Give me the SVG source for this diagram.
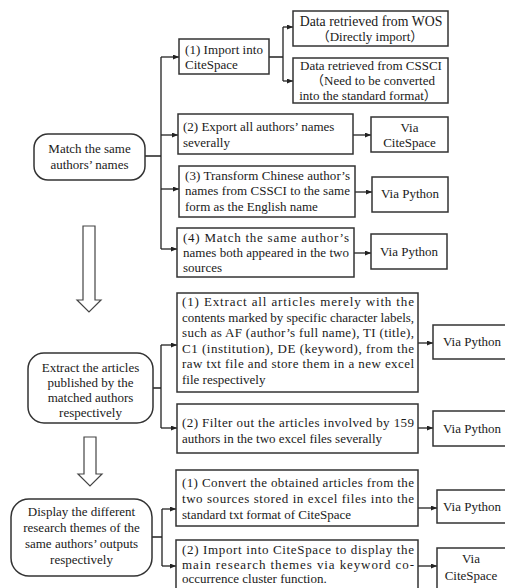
<svg xmlns="http://www.w3.org/2000/svg" width="505" height="588" viewBox="0 0 505 588" font-family="'Liberation Serif', 'Times New Roman', serif">
<style>
.box{fill:#fff;stroke:#333;stroke-width:1.5}
.t{font-family:'Liberation Serif','Times New Roman',serif;font-size:13px;fill:#1a1a1a}
.big{font-size:13.8px}
.cjk{font-family:'Liberation Serif','Noto Sans CJK SC',serif}
.c{text-anchor:middle}
.ln{fill:none;stroke:#222;stroke-width:1.3}
.ar{fill:none;stroke:#222;stroke-width:1.3;marker-end:url(#ah)}
.hollow{fill:#fff;stroke:#444;stroke-width:1.2}
</style>
<defs>
<marker id="ah" markerUnits="userSpaceOnUse" markerWidth="7" markerHeight="6" refX="6" refY="2.5" orient="auto">
<path d="M0,0 L6,2.5 L0,5 z" fill="#222"/>
</marker>
</defs>
<rect width="505" height="588" fill="#fff"/>

<g id="connectors">
<path class="ln" d="M145,156 H161 M161,57 V249"/>
<path class="ar" d="M161,57 H179"/>
<path class="ar" d="M161,135 H178"/>
<path class="ar" d="M161,189 H179"/>
<path class="ar" d="M161,249 H177"/>
<path class="ln" d="M269,57 H283 M283,27 V81"/>
<path class="ar" d="M283,27 H293"/>
<path class="ar" d="M283,81 H293"/>
<path class="ar" d="M353,135 H371"/>
<path class="ar" d="M355,192 H372"/>
<path class="ar" d="M354,253 H371"/>
<path class="ln" d="M153,388 H161 M161,345 V428"/>
<path class="ar" d="M161,345 H177"/>
<path class="ar" d="M161,428 H177"/>
<path class="ar" d="M418,343 H433"/>
<path class="ar" d="M418,428 H433"/>
<path class="ln" d="M152,537 H162 M162,509 V566"/>
<path class="ar" d="M162,509 H176"/>
<path class="ar" d="M162,566 H176"/>
<path class="ar" d="M418,508 H437"/>
<path class="ar" d="M418,566 H437"/>
<polygon class="hollow" points="83,226 95,226 95,300 101,300 89,312 77,300 83,300"/>
<polygon class="hollow" points="84,437 96,437 96,474 102,474 90,486 78,474 84,474"/>
</g>

<g id="wos">
<rect class="box" x="293" y="11" width="155" height="35"/>
<text class="t c big" x="371" y="26">Data retrieved from WOS</text>
<text class="t c cjk" x="370" y="41">（Directly import）</text>
</g>
<g id="cssci">
<rect class="box" x="293" y="58" width="155" height="45"/>
<text class="t c" x="371" y="70">Data retrieved from CSSCI</text>
<text class="t c cjk" x="373" y="85">（Need to be converted</text>
<text class="t c cjk" x="368" y="100">into the standard format）</text>
</g>
<g id="import">
<rect class="box" x="179" y="39" width="90" height="35"/>
<text class="t" x="185" y="54" textLength="78" lengthAdjust="spacing">(1) Import into</text>
<text class="t" x="185" y="69">CiteSpace</text>
</g>
<g id="export">
<rect class="box" x="178" y="114" width="175" height="40"/>
<text class="t" x="183" y="131">(2) Export all authors’ names</text>
<text class="t" x="183" y="147">severally</text>
</g>
<g id="via-cs-1">
<rect class="box" x="371" y="117" width="77" height="35"/>
<text class="t c" x="409.5" y="132">Via</text>
<text class="t c" x="409.5" y="147">CiteSpace</text>
</g>
<g id="match">
<rect class="box" x="34" y="134" width="111" height="46" rx="14"/>
<text class="t c" x="89.5" y="153">Match the same</text>
<text class="t c" x="89.5" y="169">authors’ names</text>
</g>
<g id="transform">
<rect class="box" x="179" y="166" width="176" height="51"/>
<text class="t" x="185" y="180" textLength="165" lengthAdjust="spacing">(3) Transform Chinese author’s</text>
<text class="t" x="185" y="195" textLength="165" lengthAdjust="spacing">names from CSSCI to the same</text>
<text class="t" x="185" y="211">form as the English name</text>
</g>
<g id="via-py-1">
<rect class="box" x="372" y="177" width="76" height="35"/>
<text class="t c" x="410" y="198">Via Python</text>
</g>
<g id="matchnames">
<rect class="box" x="177" y="228" width="177" height="49"/>
<text class="t" x="183" y="242" textLength="166" lengthAdjust="spacing">(4) Match the same author’s</text>
<text class="t" x="183" y="257" textLength="166" lengthAdjust="spacing">names both appeared in the two</text>
<text class="t" x="183" y="272">sources</text>
</g>
<g id="via-py-2">
<rect class="box" x="371" y="234" width="76" height="35"/>
<text class="t c" x="409" y="256">Via Python</text>
</g>

<g id="extract-node">
<rect class="box" x="28" y="353" width="125" height="70" rx="16"/>
<text class="t c" x="90.5" y="372">Extract the articles</text>
<text class="t c" x="90.5" y="387">published by the</text>
<text class="t c" x="90.5" y="402">matched authors</text>
<text class="t c" x="90.5" y="417">respectively</text>
</g>
<g id="extract">
<rect class="box" x="177" y="293" width="241" height="99"/>
<text class="t" x="182" y="306" textLength="232" lengthAdjust="spacing">(1) Extract all articles merely with the</text>
<text class="t" x="182" y="321.5" textLength="232" lengthAdjust="spacing">contents marked by specific character labels,</text>
<text class="t" x="182" y="337" textLength="232" lengthAdjust="spacing">such as AF (author’s full name), TI (title),</text>
<text class="t" x="182" y="352.5" textLength="232" lengthAdjust="spacing">C1 (institution), DE (keyword), from the</text>
<text class="t" x="182" y="368" textLength="232" lengthAdjust="spacing">raw txt file and store them in a new excel</text>
<text class="t" x="182" y="383.5">file respectively</text>
</g>
<g id="via-py-3">
<rect class="box" x="433" y="325" width="80" height="34"/>
<text class="t" x="443" y="346">Via Python</text>
</g>
<g id="filter">
<rect class="box" x="177" y="404" width="241" height="49"/>
<text class="t" x="182" y="427" textLength="232" lengthAdjust="spacing">(2) Filter out the articles involved by 159</text>
<text class="t" x="182" y="443">authors in the two excel files severally</text>
</g>
<g id="via-py-4">
<rect class="box" x="433" y="411" width="80" height="35"/>
<text class="t" x="443" y="433">Via Python</text>
</g>

<g id="display-node">
<rect class="box" x="11" y="499" width="141" height="77" rx="18"/>
<text class="t c" x="81.5" y="516">Display the different</text>
<text class="t c" x="81.5" y="532">research themes of the</text>
<text class="t c" x="81.5" y="548">same authors’ outputs</text>
<text class="t c" x="81.5" y="564">respectively</text>
</g>
<g id="convert">
<rect class="box" x="176" y="470" width="242" height="56"/>
<text class="t" x="182" y="487" textLength="232" lengthAdjust="spacing">(1) Convert the obtained articles from the</text>
<text class="t" x="182" y="503" textLength="232" lengthAdjust="spacing">two sources stored in excel files into the</text>
<text class="t" x="182" y="519">standard txt format of CiteSpace</text>
</g>
<g id="via-py-5">
<rect class="box" x="437" y="490" width="76" height="33"/>
<text class="t" x="443" y="511">Via Python</text>
</g>
<g id="import-cs">
<rect class="box" x="176" y="540" width="242" height="60"/>
<text class="t" x="182" y="554" textLength="232" lengthAdjust="spacing">(2) Import into CiteSpace to display the</text>
<text class="t" x="182" y="569" textLength="232" lengthAdjust="spacing">main research themes via keyword co-</text>
<text class="t" x="182" y="583">occurrence cluster function.</text>
</g>
<g id="via-cs-2">
<rect class="box" x="437" y="548" width="76" height="50"/>
<text class="t c" x="471" y="563">Via</text>
<text class="t c" x="471" y="580">CiteSpace</text>
</g>
</svg>
